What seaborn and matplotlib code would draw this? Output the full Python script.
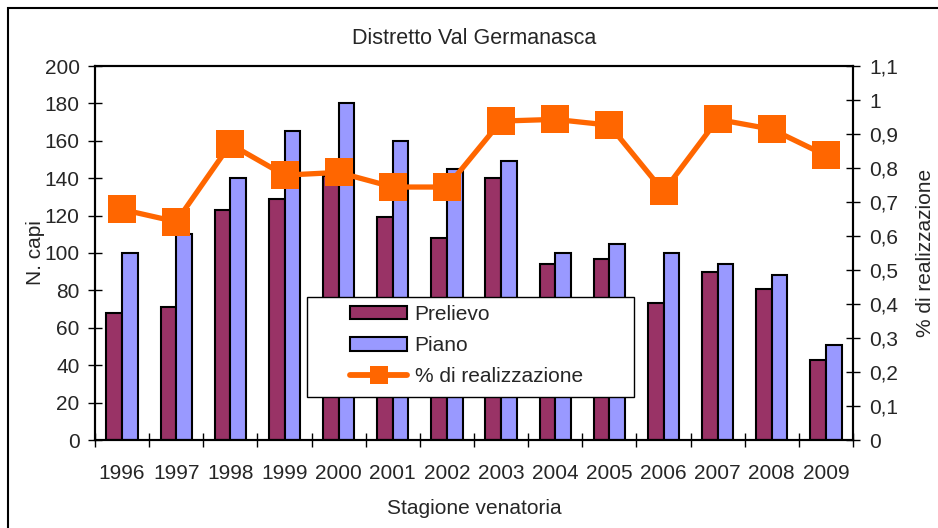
import numpy as np
import pandas as pd
import matplotlib
matplotlib.use("Agg")
import matplotlib.pyplot as plt
import seaborn as sns
from matplotlib.patches import Patch, Rectangle
from matplotlib.lines import Line2D
from matplotlib.ticker import FuncFormatter, MultipleLocator

years = ["1996", "1997", "1998", "1999", "2000", "2001", "2002",
         "2003", "2004", "2005", "2006", "2007", "2008", "2009"]
prelievo = [68, 71, 123, 129, 141, 119, 108, 140, 94, 97, 73, 90, 81, 43]
piano = [100, 110, 140, 165, 180, 160, 145, 149, 100, 105, 100, 94, 88, 51]
realizzazione = [0.678, 0.642, 0.870, 0.779, 0.787, 0.744, 0.744,
                 0.938, 0.943, 0.926, 0.731, 0.943, 0.914, 0.837]

sns.set_theme(style="white")
plt.rcParams['font.family'] = ['Liberation Sans', 'DejaVu Sans']

FS = 15

df = pd.DataFrame({
    "Anno": years * 2,
    "N": prelievo + piano,
    "Serie": ["Prelievo"] * len(years) + ["Piano"] * len(years),
})

fig = plt.figure(figsize=(9.38, 5.28), dpi=100)
ax = fig.add_axes([95 / 938, 1 - 440 / 528, (853 - 95) / 938, (440 - 66) / 528])

colors = {"Prelievo": "#993366", "Piano": "#9999FF"}
sns.barplot(data=df, x="Anno", y="N", hue="Serie", palette=colors,
            width=0.58, gap=0, edgecolor="black", linewidth=1.5,
            saturation=1, legend=False, ax=ax)
ax.set_ylim(0, 200)
ax.set_xlim(-0.5, len(years) - 0.5)
ax.yaxis.set_major_locator(MultipleLocator(20))
ax.set_xticks(np.arange(len(years) + 1) - 0.5, minor=False)
ax.set_xticklabels([])
ax.set_xticks(np.arange(len(years)), minor=True)
ax.set_xticklabels(years, minor=True)
ax.tick_params(axis="x", which="major", direction="inout", length=10, width=1, color="black", bottom=True)
ax.tick_params(axis="x", which="minor", length=0, pad=17, labelsize=FS)
ax.tick_params(axis="y", direction="inout", length=10, width=1, color="black", left=True, labelsize=FS, pad=6)
ax.set_xlabel("Stagione venatoria", fontsize=FS, labelpad=12)
ax.set_ylabel("N. capi", fontsize=FS, labelpad=0)
for s in ax.spines.values():
    s.set_color("black")
    s.set_linewidth(1.5)

ax2 = ax.twinx()
sns.lineplot(x=np.arange(len(years)), y=realizzazione, ax=ax2, color="#FF6600",
             linewidth=3.8, marker="s", markersize=19.5, markeredgewidth=0)
ax2.set_ylim(0, 1.1)
ax2.set_xlim(-0.5, len(years) - 0.5)
ax2.yaxis.set_major_locator(MultipleLocator(0.1))
ax2.yaxis.set_major_formatter(FuncFormatter(lambda v, p: ("%g" % round(v, 2)).replace(".", ",")))
ax2.tick_params(axis="y", direction="inout", length=10, width=1, color="black", right=True, labelsize=FS, pad=6.5)
ax2.set_ylabel("% di realizzazione", fontsize=FS, labelpad=13)
for s in ax2.spines.values():
    s.set_color("black")
    s.set_linewidth(1.5)

# legend box
x0 = (307 - 95) / 758
x1 = (634 - 95) / 758
y0 = (440 - 397) / 374
y1 = (440 - 297) / 374
ax2.add_patch(Rectangle((x0, y0), x1 - x0, y1 - y0, transform=ax2.transAxes,
                        facecolor="white", edgecolor="black", linewidth=1.0,
                        zorder=9, clip_on=False))

handles = [
    Patch(facecolor="#993366", edgecolor="black", linewidth=1.5, label="Prelievo"),
    Patch(facecolor="#9999FF", edgecolor="black", linewidth=1.5, label="Piano"),
    Line2D([], [], color="#FF6600", linewidth=4.2, marker="s", markersize=13.5,
           markeredgewidth=0, label="% di realizzazione"),
]
leg = ax2.legend(handles=handles, loc="upper left",
                 bbox_to_anchor=((350 - 95) / 758, (440 - 305) / 374),
                 fontsize=FS, frameon=False, handlelength=2.75, handleheight=0.63,
                 borderpad=0, labelspacing=0.58, handletextpad=0.35,
                 borderaxespad=0)
leg.set_zorder(10)

fig.text(474 / 938, 1 - 38 / 528, "Distretto Val Germanasca", ha="center",
         va="center", fontsize=15.5)

fig.patches.append(Rectangle((8 / 938, -0.05), 1.1, 1 - 8 / 528 + 0.05,
                             transform=fig.transFigure, fill=False,
                             edgecolor="black", linewidth=1.5))

fig.savefig("out.png", dpi=100)
